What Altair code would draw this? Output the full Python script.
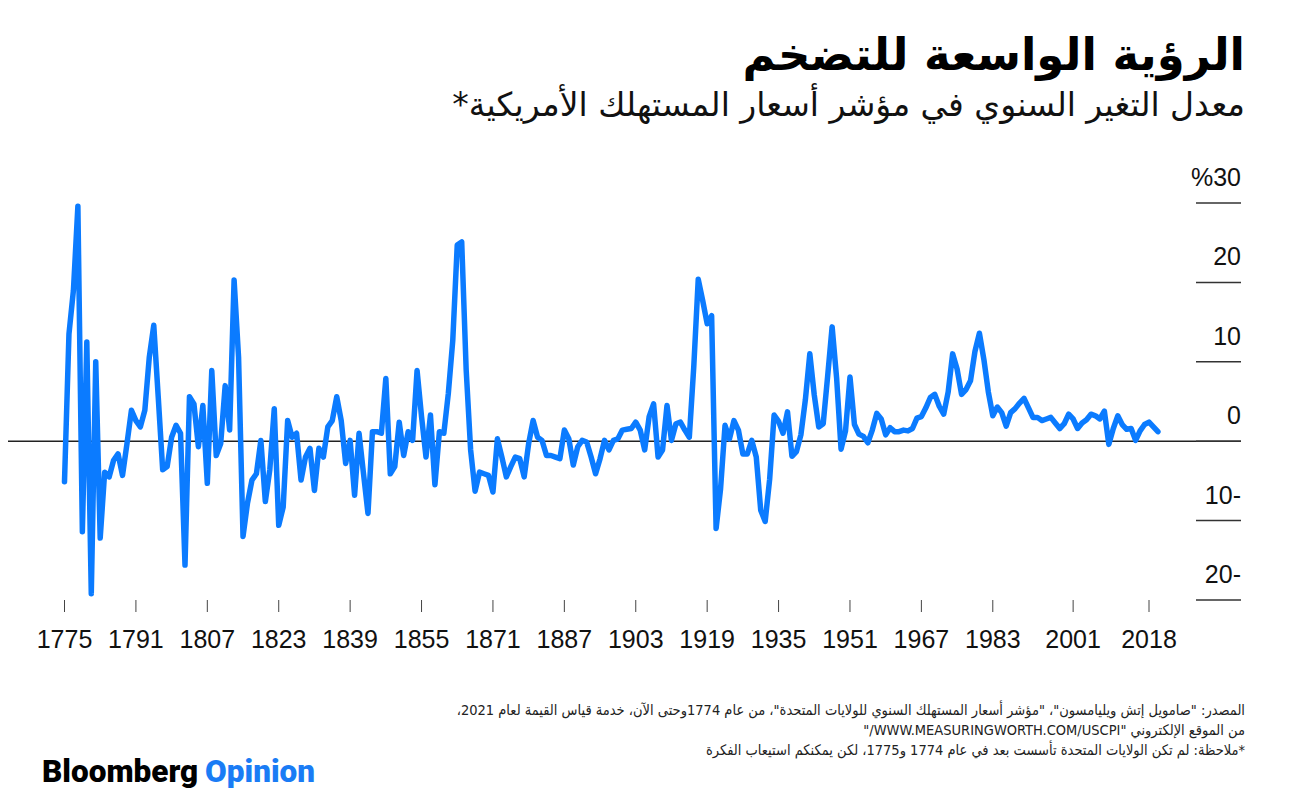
import altair as alt
import pandas as pd

# ---------------- data ----------------
years = list(range(1775, 2021))
values = [
    -5.1, 13.5, 19.0, 29.6, -11.4, 12.5, -19.2, 10.0, -12.2, -3.9,   # 1775-1784
    -4.5, -2.4, -1.6, -4.3, -0.3, 3.9, 2.6, 1.8, 3.9, 10.6,          # 1785-1794
    14.6, 5.6, -3.6, -3.2, 0.5, 2.0, 1.0, -15.6, 5.6, 4.7,           # 1795-1804
    -0.7, 4.5, -5.3, 8.9, -1.8, -0.3, 7.0, 1.4, 20.3, 10.6,          # 1805-1814
    -12.0, -7.8, -4.9, -4.1, 0.1, -7.6, -3.6, 4.1, -10.6, -8.3,      # 1815-1824
    2.6, 0.5, 1.0, -4.9, -2.0, -0.9, -6.2, -0.9, -2.0, 1.8,          # 1825-1834
    2.6, 5.6, 2.6, -2.8, 0.1, -6.8, 1.0, -4.1, -9.1, 1.2,            # 1835-1844
    1.2, 1.0, 7.9, -4.1, -3.2, 2.4, -1.8, 1.2, 0.1, 8.9,             # 1845-1854
    3.1, -2.0, 3.3, -5.5, 1.2, 1.0, 6.0, 12.7, 24.7, 25.1,           # 1855-1864
    9.0, -1.1, -6.3, -3.9, -4.1, -4.3, -6.4, 0.3, -2.0, -4.5,        # 1865-1874
    -3.2, -2.0, -2.2, -4.5, -0.3, 2.6, 0.5, 0.1, -1.8, -1.8,         # 1875-1884
    -2.0, -2.2, 1.4, 0.3, -3.0, -0.7, 0.1, -0.1, -2.0, -4.1,         # 1885-1894
    -2.2, 0.1, -1.1, 0.1, 0.3, 1.4, 1.5, 1.6, 2.4, 1.4,              # 1895-1904
    -1.1, 3.1, 4.7, -2.0, -1.1, 4.5, 0.1, 2.2, 2.4, 1.4,             # 1905-1914
    0.5, 9.4, 20.4, 17.7, 14.8, 15.8, -11.0, -6.0, 2.0, 0.3,         # 1915-1924
    2.6, 1.4, -1.6, -1.6, 0.1, -2.0, -8.7, -10.1, -4.8, 3.3,         # 1925-1934
    2.5, 1.0, 3.7, -1.9, -1.3, 0.8, 5.2, 11.0, 5.8, 1.8,             # 1935-1944
    2.2, 8.2, 14.4, 8.0, -1.0, 1.3, 8.1, 2.1, 0.9, 0.6,              # 1945-1954
    -0.2, 1.4, 3.5, 2.8, 0.8, 1.7, 1.2, 1.2, 1.4, 1.3,               # 1955-1964
    1.6, 2.9, 3.1, 4.2, 5.5, 5.9, 4.4, 3.4, 6.2, 11.0,               # 1965-1974
    9.1, 5.9, 6.5, 7.6, 11.3, 13.6, 10.3, 6.2, 3.2, 4.3,             # 1975-1984
    3.6, 1.9, 3.6, 4.1, 4.8, 5.4, 4.2, 3.0, 3.0, 2.6,                # 1985-1994
    2.8, 3.0, 2.3, 1.6, 2.2, 3.4, 2.8, 1.6, 2.3, 2.7,                # 1995-2004
    3.4, 3.2, 2.8, 3.8, -0.4, 1.6, 3.2, 2.1, 1.5, 1.6,               # 2005-2014
    0.1, 1.3, 2.1, 2.4, 1.8, 1.2,                                    # 2015-2020
]

x_ticks = [1775, 1791, 1807, 1823, 1839, 1855, 1871, 1887, 1903, 1919,
           1935, 1951, 1967, 1983, 2001, 2018]
y_ticks = [-20, -10, 0, 10, 20, 30]
y_labels = ["20-", "10-", "0", "10", "20", "%30"]

RLE, PDF = "\u202B", "\u202C"
title = "الرؤية الواسعة للتضخم"
subtitle = "معدل التغير السنوي في مؤشر أسعار المستهلك الأمريكية*"
notes = [
    'المصدر: "صامويل إتش ويليامسون"، "مؤشر أسعار المستهلك السنوي للولايات المتحدة"، من عام 1774وحتى الآن، خدمة قياس القيمة لعام 2021،',
    'من الموقع الإلكتروني "WWW.MEASURINGWORTH.COM/USCPI/"',
    '*ملاحظة: لم تكن الولايات المتحدة تأسست بعد في عام 1774 و1775، لكن يمكنكم استيعاب الفكرة',
]

BLUE = "#0b7bff"
W, H = 1280, 783

xs = alt.Scale(domain=[1775, 2018], range=[56.5, 1141], zero=False, nice=False)
ys = alt.Scale(domain=[-20, 30], range=[592, 195], zero=False, nice=False)

line_df = pd.DataFrame({"year": years, "value": values})
ytick_df = pd.DataFrame({"v": y_ticks, "label": y_labels})
xtick_df = pd.DataFrame({"year": x_ticks, "label": [str(t) for t in x_ticks]})

zero = alt.Chart(pd.DataFrame({"v": [0]})).mark_rule(color="#222222", strokeWidth=1.5).encode(
    y=alt.Y("v:Q", scale=ys, axis=None), x=alt.value(0), x2=alt.value(1233))

stubs = alt.Chart(ytick_df).mark_rule(color="#333333", strokeWidth=1.5).encode(
    y=alt.Y("v:Q", scale=ys, axis=None), x=alt.value(1188), x2=alt.value(1233))

ylab = alt.Chart(ytick_df).mark_text(
    align="right", baseline="alphabetic", dy=-17, fontSize=25,
    font="Liberation Sans", color="#111111").encode(
    y=alt.Y("v:Q", scale=ys, axis=None), x=alt.value(1233), text="label:N")

line = alt.Chart(line_df).mark_line(
    color=BLUE, strokeWidth=5.5, strokeJoin="round", strokeCap="round").encode(
    x=alt.X("year:Q", scale=xs, axis=None),
    y=alt.Y("value:Q", scale=ys, axis=None))

xt = alt.Chart(xtick_df).mark_rule(color="#444444", strokeWidth=1).encode(
    x=alt.X("year:Q", scale=xs, axis=None), y=alt.value(592), y2=alt.value(604))

xlab = alt.Chart(xtick_df).mark_text(
    baseline="middle", fontSize=25, font="Liberation Sans Narrow, Liberation Sans",
    color="#111111").encode(
    x=alt.X("year:Q", scale=xs, axis=None), y=alt.value(632), text="label:N")


def txt(s, x, y, size, weight="normal", align="right", color="#111111",
        font="DejaVu Sans", baseline="alphabetic"):
    return alt.Chart(pd.DataFrame({"t": [s]})).mark_text(
        align=align, baseline=baseline, fontSize=size, fontWeight=weight,
        font=font, color=color).encode(x=alt.value(x), y=alt.value(y), text="t:N")


t_title = txt(RLE + title + PDF, 1237, 62, 45, weight="bold", color="#000000")
t_sub = txt(RLE + subtitle + PDF, 1237, 108, 33)
t_n = [txt(RLE + s + PDF, 1237, y, 14.5, color="#222222", font="DejaVu Sans Condensed, DejaVu Sans")
       for s, y in zip(notes, [707, 727, 747])]
logo1 = txt("Bloomberg", 34, 765, 31.5, weight=900, align="left", color="#000000",
            font="Roboto", baseline="middle")
logo2 = txt("Opinion", 197, 765, 31.5, weight=900, align="left", color="#1a7cf5",
            font="Roboto", baseline="middle")

chart = alt.layer(zero, stubs, ylab, xt, xlab, line, t_title, t_sub, *t_n, logo1, logo2).properties(
    width=W, height=H, autosize=alt.AutoSizeParams(type="none"),
    padding={"left": 0, "top": 0, "right": 0, "bottom": 0},
    background="white",
).configure_view(stroke=None)

chart.save("out.html", embed_options={"renderer": "svg", "actions": False})
